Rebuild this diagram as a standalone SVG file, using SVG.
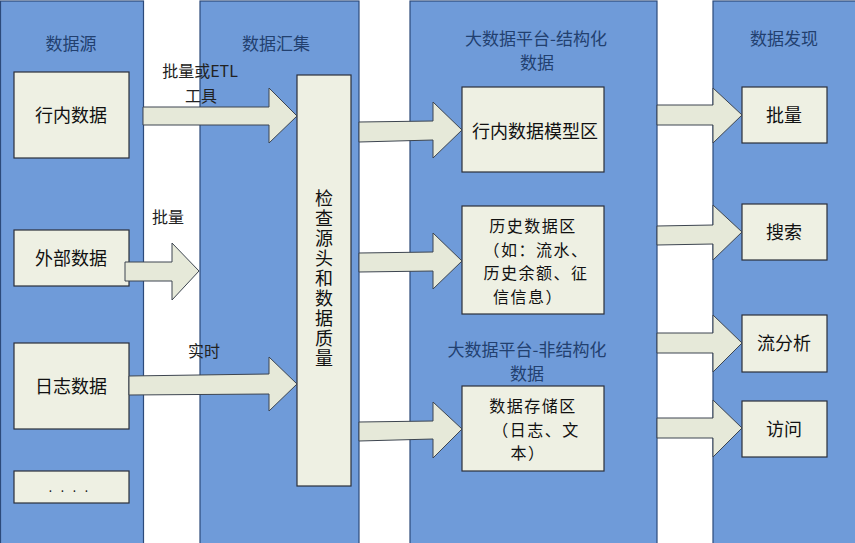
<svg xmlns="http://www.w3.org/2000/svg" width="855" height="543" viewBox="0 0 855 543">
<style>
.panel{fill:#6f9bd9;stroke:#2c4a7a;stroke-width:1.2}
.box{fill:#eef0e3;stroke:#2b2f3a;stroke-width:1.2}
.arr{fill:#e6e9d9;stroke:#3d4550;stroke-width:1}
.hd{font-family:"Noto Sans CJK SC","Liberation Serif",serif;font-size:17px;fill:#22406f;text-anchor:middle;dominant-baseline:central}
.lb{font-family:"Noto Sans CJK SC","Liberation Sans",sans-serif;font-size:18px;fill:#111;text-anchor:middle;dominant-baseline:central}
.ml{font-family:"Noto Sans CJK SC","Liberation Sans",sans-serif;font-size:16px;letter-spacing:1.5px;fill:#111;text-anchor:middle;dominant-baseline:central}
.al{font-family:"Noto Sans CJK SC","Liberation Serif",serif;font-size:16px;fill:#222;text-anchor:middle;dominant-baseline:central}
</style>
<rect width="855" height="543" fill="#ffffff"/>
<g id="col-source">
<rect class="panel" x="0.5" y="1" width="143" height="545"/>
<text class="hd" x="71" y="42">数据源</text>
</g>
<g id="col-collect">
<rect class="panel" x="200" y="1" width="159" height="545"/>
<text class="hd" x="276" y="42">数据汇集</text>
</g>
<g id="col-platform">
<rect class="panel" x="410" y="1" width="247" height="545"/>
<text class="hd"><tspan x="536" y="37">大数据平台-结构化</tspan><tspan x="537" y="61">数据</tspan></text>
<text class="hd"><tspan x="527" y="348">大数据平台-非结构化</tspan><tspan x="527" y="372">数据</tspan></text>
</g>
<g id="col-discover">
<rect class="panel" x="713" y="1" width="143" height="545"/>
<text class="hd" x="784" y="37">数据发现</text>
</g>
<g id="n-hangnei"><rect class="box" x="14" y="72" width="115" height="86"/><text class="lb" x="71" y="114">行内数据</text></g>
<g id="n-waibu"><rect class="box" x="14" y="230" width="115" height="56"/><text class="lb" x="71" y="257">外部数据</text></g>
<g id="n-rizhi"><rect class="box" x="14" y="343" width="115" height="86"/><text class="lb" x="71" y="385">日志数据</text></g>
<g id="n-more"><rect class="box" x="14" y="471" width="115" height="32"/><text class="lb" x="70" y="486" style="font-size:12px;letter-spacing:3px">. . . .</text></g>
<g id="n-check"><rect class="box" x="297" y="75" width="54" height="411"/>
<text x="324" y="189" style="writing-mode:vertical-rl;font-family:'Noto Sans CJK SC','Liberation Sans',sans-serif;font-size:18px;fill:#111;letter-spacing:2px">检查源头和数据质量</text>
</g>
<g id="n-model"><rect class="box" x="462" y="87" width="142" height="85"/><text class="lb" x="535" y="130">行内数据模型区</text></g>
<g id="n-history"><rect class="box" x="462" y="206" width="142" height="108"/>
<text class="ml"><tspan x="533" y="225">历史数据区</tspan><tspan x="536" y="248.5">（如：流水、</tspan><tspan x="536" y="272">历史余额、征</tspan><tspan x="528" y="295.5">信信息）</tspan></text>
</g>
<g id="n-storage"><rect class="box" x="462" y="386" width="142" height="85"/>
<text class="ml"><tspan x="533" y="405">数据存储区</tspan><tspan x="536" y="428.5">（日志、文</tspan><tspan x="528" y="452">本）</tspan></text>
</g>
<g id="n-batch"><rect class="box" x="742" y="87" width="85" height="56"/><text class="lb" x="784" y="114">批量</text></g>
<g id="n-search"><rect class="box" x="742" y="204" width="85" height="56"/><text class="lb" x="784" y="231">搜索</text></g>
<g id="n-stream"><rect class="box" x="742" y="315" width="85" height="57"/><text class="lb" x="784" y="342">流分析</text></g>
<g id="n-access"><rect class="box" x="742" y="401" width="85" height="56"/><text class="lb" x="784" y="428">访问</text></g>
<g id="connectors">
<polygon class="arr" points="143,107 269,107 269,88 297,116 269,143 269,125 143,125"/>
<polygon class="arr" points="125,262 172,262 172,243 199,271 172,300 172,281 125,281"/>
<polygon class="arr" points="129,376 269,374 269,357 297,384 269,411 269,394 129,395"/>
<polygon class="arr" points="359,122 433,121 433,102 462,130 433,158 433,140 359,142"/>
<polygon class="arr" points="359,253 433,252 433,233 462,261 433,289 433,271 359,272"/>
<polygon class="arr" points="359,422 433,421 433,402 462,429 433,458 433,439 359,441"/>
<polygon class="arr" points="657,105 713,105 713,88 742,115 713,143 713,125 657,125"/>
<polygon class="arr" points="657,226 713,225 713,205 742,232 713,260 713,244 657,245"/>
<polygon class="arr" points="657,333 713,333 713,315 742,343 713,372 713,353 657,353"/>
<polygon class="arr" points="657,418 713,418 713,400 742,428 713,457 713,438 657,438"/>
<text class="al"><tspan x="200" y="70">批量或ETL</tspan><tspan x="201" y="95">工具</tspan></text>
<text class="al" x="168" y="216">批量</text>
<text class="al" x="204" y="350">实时</text>
</g>
</svg>
